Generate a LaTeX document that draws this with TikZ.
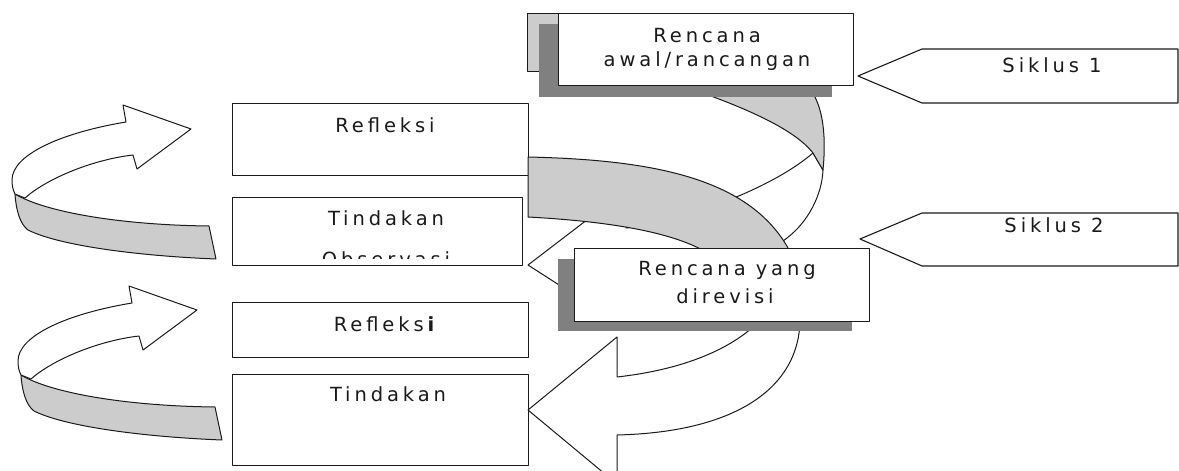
\documentclass[tikz,border=0pt]{standalone}
\usepackage{fontspec}
\newfontfamily\lblfont[LetterSpace=20]{DejaVu Sans}
\definecolor{ribbon}{HTML}{CCCCCC}
\definecolor{shade}{HTML}{808080}
\definecolor{ink}{HTML}{1A1A1A}
\begin{document}
\begin{tikzpicture}[x=1pt,y=-1pt,line join=round,
  box/.style={draw=ink,line width=1.3pt,fill=white,inner sep=0pt,anchor=north west},
  shadowbox/.style={fill=shade,inner sep=0pt,anchor=north west},
  lbl/.style={font=\lblfont\fontsize{19.5}{22}\selectfont,inner sep=0pt,anchor=base,text=ink},
  ribbonst/.style={draw=ink,line width=1pt,fill=ribbon},
  whitest/.style={draw=ink,line width=1pt,fill=white},
  tagst/.style={draw=ink,line width=1.1pt,fill=white}]
\useasboundingbox (0,0) rectangle (1179,471);
\clip (0,0) rectangle (1179,471);

% back plate behind the first plan box
\draw[ribbonst] (527,13) rectangle (620,71);

% cycle-1 ribbon arrow (white front) and its grey inner side
\draw[whitest] (528,265) -- (626,190) -- (626,228)
  .. controls (680,222) and (770,190) .. (813,153) -- (823,170)
  .. controls (822,195) and (808,222) .. (787,238)
  .. controls (740,275) and (680,295) .. (626,300) -- (626,328) -- cycle;
\draw[ribbonst] (700,92) .. controls (750,110) and (795,130) .. (813,153)
  .. controls (817,160) and (820,165) .. (823,170)
  .. controls (826,140) and (824,110) .. (812,92) -- cycle;

% left curved arrows
\foreach \dx/\dy in {0/0,6/181}{
\begin{scope}[shift={(\dx,\dy)}]
  \draw[ribbonst] (15,194) .. controls (45,212) and (120,225) .. (209,226) -- (216,259)
    .. controls (140,256) and (60,246) .. (28,230)
    .. controls (20,224) and (16,210) .. cycle;
  \draw[whitest] (126,122) -- (123,105) -- (191,129) -- (137,169) -- (133,155)
    .. controls (90,160) and (45,180) .. (25,198) -- (15,194)
    .. controls (13,190) and (12,186) .. (12,180)
    .. controls (12,155) and (60,133) .. cycle;
\end{scope}}

% boxes on the left
\node[box,minimum width=296pt,minimum height=72pt] (refl1) at (232,103) {};
\node[box,minimum width=290pt,minimum height=68pt] (tind1) at (232,197) {};
\node[box,minimum width=296pt,minimum height=55pt] (refl2) at (232,302) {};
\node[box,minimum width=296pt,minimum height=91pt] (tind2) at (232,374) {};
\node[lbl] (trefl1) at (385,132) {Refleksi};
\node[lbl] (ttind1) at (386,225) {Tindakan};
\begin{scope}
  \clip (232,197) rectangle (522,258);
  \node[lbl] (tobs) at (386,266) {Observasi};
\end{scope}
\node[lbl] (trefl2) at (386,331) {Refleks\textbf{i}};
\node[lbl] (ttind2) at (388,401) {Tindakan};

% grey band of cycle-2 arrow
\draw[ribbonst] (528,157) .. controls (660,160) and (760,180) .. (795,262)
  -- (720,262) .. controls (690,235) and (620,222) .. (528,217) -- cycle;

% cycle-2 arrow (white front)
\draw[whitest] (528,410) -- (617,337) -- (617,377)
  .. controls (680,370) and (735,350) .. (765,315) -- (800,315)
  .. controls (802,385) and (740,432) .. (617,435) -- (617,484) -- cycle;

% plan boxes with shadows
\node[shadowbox,minimum width=293pt,minimum height=73pt] (sh1) at (539,24) {};
\node[box,minimum width=295pt,minimum height=72pt] (plan1) at (558,13) {};
\node[lbl] (tplan1a) at (707,42) {Rencana};
\node[lbl] (tplan1b) at (707,66) {awal/rancangan};

\node[shadowbox,minimum width=294pt,minimum height=72pt] (sh2) at (558,259) {};
\node[box,minimum width=295pt,minimum height=73pt] (plan2) at (574,248) {};
\node[lbl] (tplan2a) at (727,275) {Rencana yang};
\node[lbl] (tplan2b) at (725,303) {direvisi};

% cycle tags
\draw[tagst] (858,76) -- (922,49) -- (1178,49) -- (1178,103) -- (922,103) -- cycle;
\node[lbl] (sik1) at (1052,72) {Siklus 1};
\draw[tagst] (860,239) -- (922,213) -- (1178,213) -- (1178,266) -- (922,266) -- cycle;
\node[lbl] (sik2) at (1054,232) {Siklus 2};
\end{tikzpicture}
\end{document}
